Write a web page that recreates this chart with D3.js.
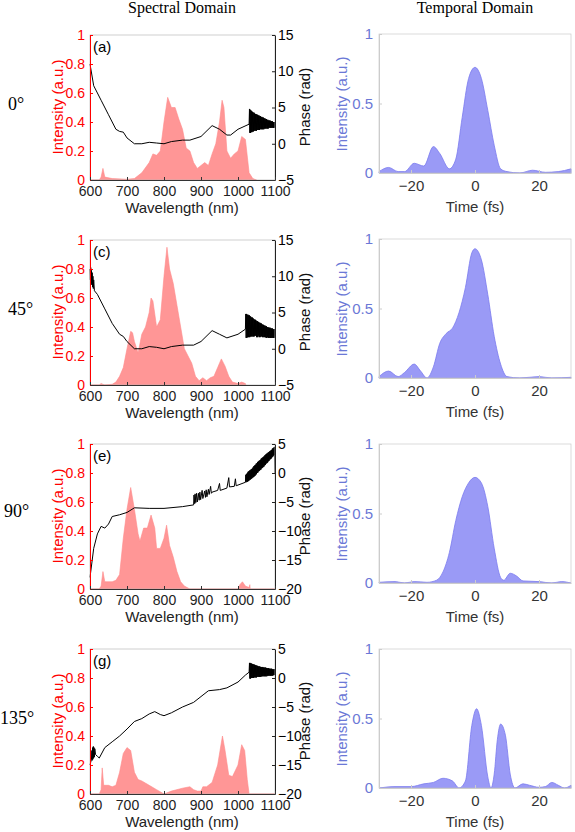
<!DOCTYPE html>
<html><head><meta charset="utf-8">
<script src="https://cdn.jsdelivr.net/npm/d3@7"></script>
<style>body{margin:0;background:#fff}text{font-family:"Liberation Sans",Arial,sans-serif}</style>
</head><body><svg id="c" width="575" height="832"></svg>
<script>
const rowLabels = ["0°","45°","90°","135°"];
const panelLetters = ["(a)","(c)","(e)","(g)"];
const phaseDomains = [[-5,15],[-5,15],[-20,5],[-20,5]];
const phaseTicks = [[-5,0,5,10,15],[-5,0,5,10,15],[-20,-15,-10,-5,0,5],[-20,-15,-10,-5,0,5]];
const intensityTicks = [0,0.2,0.4,0.6,0.8,1];
const wlTicks = [600,700,800,900,1000,1100];
const timeTicks = [-20,0,20];
const timeIntTicks = [0,0.5,1];

// spectral intensity, flat [wavelength, value, ...]
const specA = [600,0,625,0,630,0.02,635,0.08,640,0.02,660,0.01,700,0.005,720,0.01,740,0.05,760,0.12,770,0.18,780,0.17,790,0.2,800,0.4,810,0.57,820,0.5,830,0.5,840,0.42,850,0.35,860,0.22,870,0.2,880,0.12,890,0.08,900,0.1,910,0.12,920,0.1,930,0.18,940,0.25,950,0.4,957,0.55,962,0.5,970,0.2,980,0.15,990,0.18,1000,0.2,1010,0.3,1020,0.28,1030,0.05,1040,0.01,1050,0];
const specC = [600,0,625,0,630,0.01,640,0,660,0.005,670,0.02,680,0.06,690,0.12,700,0.25,710,0.37,715,0.36,720,0.3,730,0.22,740,0.35,750,0.4,760,0.5,765,0.6,770,0.58,780,0.4,790,0.45,800,0.75,808,0.95,815,0.8,825,0.7,835,0.55,845,0.4,855,0.25,865,0.2,875,0.15,885,0.06,895,0.03,905,0.05,915,0.03,925,0.05,935,0.06,945,0.12,955,0.18,965,0.13,975,0.06,985,0.02,1000,0.01,1010,0.02,1020,0.01,1021,0];
const specE = [600,0,625,0,630,0.02,635,0.12,640,0.05,660,0.05,670,0.06,680,0.1,690,0.35,700,0.55,710,0.7,720,0.55,730,0.38,735,0.33,745,0.42,755,0.42,765,0.51,775,0.42,780,0.28,790,0.28,800,0.35,807,0.44,815,0.3,825,0.22,835,0.12,845,0.05,855,0.02,870,0,1000,0,1005,0.03,1012,0.05,1020,0.02,1030,0.01,1032,0.03,1033,0,1100,0];
const specG = [600,0,625,0,630,0.03,633,0.18,637,0.06,650,0.06,660,0.05,670,0.06,680,0.15,690,0.28,700,0.32,710,0.3,720,0.15,730,0.1,740,0.09,760,0.06,780,0.03,800,0,820,0.02,850,0.04,870,0.05,880,0.03,890,0.02,900,0.02,905,0.05,915,0.05,930,0.08,945,0.2,958,0.4,965,0.3,975,0.13,985,0.12,1000,0.2,1010,0.34,1018,0.3,1025,0.1,1030,0,1100,0];

// spectral phase, flat [wavelength, value, ...]
const phaseA = [600,11,610,8,630,6,650,4,670,2,680,1.7,690,1.6,700,0.8,720,0,740,0,760,0.2,780,0.1,800,0,820,0.3,850,0.5,870,0.5,900,1,930,2.5,950,2,970,1.2,980,1.2,1000,2,1030,2.7,
 1031,4.8,1032,1.5,1033,4.7,1034,1.5,1035,4.6,1036,1.6,1037,4.5,1038,1.6,1039,4.4,1040,1.7,1041,4.3,1042,1.7,1043,4.3,1044,1.8,1045,4.2,1046,1.8,1047,4.1,1048,1.8,1049,4.1,1050,1.8,1051,4.0,1052,1.9,1053,4.0,1054,1.9,1055,3.9,1056,1.9,1057,3.9,1058,1.9,1059,3.8,1060,2.0,1061,3.8,1062,2.0,1063,3.7,1064,2.0,1065,3.7,1066,2.0,1067,3.6,1068,2.0,1069,3.6,1070,2.0,1071,3.5,1072,2.1,1073,3.5,1074,2.1,1075,3.4,1076,2.1,1077,3.4,1078,2.1,1079,3.3,1080,2.1,1081,3.3,1082,2.1,1083,3.2,1084,2.2,1085,3.2,1086,2.2,1087,3.2,1088,2.2,1089,3.1,1090,2.2,1091,3.1,1092,2.2,1093,3.1,1094,2.2,1095,3.0,1096,2.2,1097,3.0,1098,2.2,1099,3.0,1100,2.6];
const phaseC = [600,11,601,9.5,602,11.2,603,9,604,10.8,605,8.8,606,10.5,607,8.5,608,10,609,8.3,610,9.5,612,8,620,7.5,640,5.5,660,3.5,680,2,690,1.7,700,1,720,0,740,0,760,0.3,780,0.2,800,0,820,0.3,850,0.5,880,0.5,900,1,930,2.5,950,2,970,1.5,1000,2,1020,2.7,
 1021,4.8,1022,1.5,1023,4.8,1024,1.5,1025,4.7,1026,1.6,1027,4.7,1028,1.6,1029,4.6,1030,1.6,1031,4.6,1032,1.6,1033,4.5,1034,1.7,1035,4.4,1036,1.7,1037,4.3,1038,1.7,1039,4.3,1040,1.7,1041,4.2,1042,1.7,1043,4.1,1044,1.7,1045,4.0,1046,1.8,1047,4.0,1048,1.8,1049,3.9,1050,1.6,1051,3.8,1052,1.6,1053,3.8,1054,1.6,1055,3.7,1056,1.8,1057,3.6,1058,1.6,1059,3.6,1060,1.6,1061,3.5,1062,1.7,1063,3.5,1064,1.7,1065,3.4,1066,1.6,1067,3.3,1068,1.6,1069,3.3,1070,1.6,1071,3.2,1072,1.6,1073,3.2,1074,1.6,1075,3.1,1076,1.5,1077,3.1,1078,1.5,1079,3.0,1080,1.6,1081,3.0,1082,1.5,1083,2.9,1084,1.5,1085,2.9,1086,1.5,1087,2.9,1088,1.5,1089,2.8,1090,1.5,1091,2.8,1092,1.5,1093,2.8,1094,1.5,1095,2.7,1096,1.5,1097,2.7,1098,1.5,1099,2.7,1100,1.8];
const phaseE = [600,-18,610,-13,620,-10.5,630,-9.2,640,-9.5,650,-8.8,660,-7.5,680,-7.2,700,-6.8,720,-6,760,-6.1,800,-6.1,850,-5.8,880,-5.5,
 881,-3.8,883,-5.3,884,-3.6,886,-5.1,888,-3.5,890,-5,893,-3.5,895,-4.7,897,-3.3,899,-4.6,903,-3.0,905,-4.4,910,-3.1,912,-4.2,914,-2.9,916,-4.1,920,-2.8,922,-3.7,926,-2.3,928,-3.5,930,-3.3,945,-3.0,950,-1.8,952,-3.0,970,-2.6,975,-0.8,977,-2.4,990,-2.3,993,-1.0,995,-2.2,1020,-1.6,
 1021,-0.3,1022,-1.6,1023,-0.2,1024,-1.5,1025,0,1026,-1.5,1027,0.2,1028,-1.4,1029,0.3,1030,-1.3,1031,0.4,1032,-1.2,1033,0.5,1034,-1.1,1035,0.6,1036,-1.0,1037,0.7,1038,-0.9,1039,0.8,1040,-0.8,1041,1.0,1042,-0.7,1043,1.2,1044,-0.6,1045,1.3,1046,-0.5,1047,1.4,1048,-0.3,1049,1.6,1050,-0.2,1051,1.7,1052,0,1053,1.9,1054,0.1,1055,2.0,1056,0.3,1057,2.1,1058,0.4,1059,2.2,1060,0.5,1061,2.3,1062,0.6,1063,2.5,1064,0.8,1065,2.6,1066,0.9,1067,2.7,1068,1.0,1069,2.8,1070,1.1,1071,2.9,1072,1.3,1073,3.1,1074,1.4,1075,3.2,1076,1.6,1077,3.3,1078,1.7,1079,3.4,1080,1.8,1081,3.5,1082,2.0,1083,3.6,1084,2.1,1085,3.7,1086,2.3,1087,3.8,1088,2.4,1089,3.9,1090,2.5,1091,4.0,1092,2.7,1093,4.2,1094,2.8,1095,4.3,1096,3.0,1097,4.4,1098,3.1,1099,4.5,1100,0];
const phaseG = [600,-15,604,-14,605,-12.5,606,-14.2,607,-12,608,-14,609,-11.8,610,-13.8,611,-12,612,-13.6,613,-12.2,615,-13.2,620,-13.5,625,-13.8,640,-12,660,-11,680,-10,700,-8.8,720,-7.5,740,-7,760,-6.2,775,-5.8,790,-6.3,800,-6.5,820,-6,850,-5,880,-4.2,900,-3.2,920,-2.2,950,-2,970,-1.7,1000,-0.7,1020,0.5,1030,1,
 1031,2.6,1032,-0.1,1033,2.6,1034,-0.1,1035,2.5,1036,0,1037,2.5,1038,0,1039,2.4,1040,0,1041,2.4,1042,0,1043,2.3,1044,0.1,1045,2.3,1046,0.1,1047,2.2,1048,0.1,1049,2.2,1050,0.1,1051,2.1,1052,0.2,1053,2.1,1054,0.2,1055,2.0,1056,0.2,1057,2.0,1058,0.2,1059,2.0,1060,0.2,1061,1.9,1062,0.2,1063,1.9,1064,0.3,1065,1.9,1066,0.3,1067,1.9,1068,0.3,1069,1.8,1070,0.3,1071,1.8,1072,0.3,1073,1.8,1074,0.3,1075,1.8,1076,0.3,1077,1.7,1078,0.3,1079,1.7,1080,0.4,1081,1.7,1082,0.4,1083,1.7,1084,0.4,1085,1.6,1086,0.4,1087,1.6,1088,0.4,1089,1.6,1090,0.4,1091,1.6,1092,0.4,1093,1.5,1094,0.4,1095,1.5,1096,0.5,1097,1.5,1098,0.5,1099,1.5,1100,1.0];

// temporal intensity, flat [time, value, ...]
const tempA = [-30,0.01,-27,0.04,-24,0.01,-22,0.01,-19,0.07,-16,0.05,-13,0.19,-11,0.14,-8,0.03,-6,0.1,-4,0.4,-2,0.68,0,0.76,2,0.68,4,0.45,6,0.2,8,0.03,10,0.01,14,0,18,0.02,22,0.005,26,0.01,30,0.03];
const tempC = [-30,0.01,-27,0.05,-24,0.01,-22,0.04,-19,0.1,-17,0.05,-15,0,-13,0.08,-11,0.25,-9,0.32,-7,0.36,-5,0.47,-3,0.65,-1,0.9,0,0.93,2,0.85,4,0.6,6,0.3,8,0.1,10,0.01,14,0,20,0.01,24,0,30,0.005];
const tempE = [-30,0.005,-25,0.01,-22,0,-19,0.01,-15,0.005,-12,0.02,-10,0.08,-8,0.22,-6,0.45,-4,0.62,-2,0.72,0,0.76,2,0.72,4,0.55,6,0.25,8,0.04,9,0.02,11,0.07,13,0.05,15,0.015,20,0.01,24,0,27,0.01,30,0];
const tempG = [-30,0,-25,0.01,-20,0.01,-16,0.03,-13,0.04,-10,0.07,-7,0.05,-5,0,-3,0.05,-1,0.45,0.5,0.57,2,0.45,4,0.08,5,0,6,0.1,7,0.35,8,0.46,9.5,0.38,11,0.1,12.5,0,15,0.03,17,0.02,20,0.005,22,0.01,24,0.04,26,0.02,28,0,30,0.02];

const specs=[specA,specC,specE,specG], phases=[phaseA,phaseC,phaseE,phaseG], temps=[tempA,tempC,tempE,tempG];
const pairs = a => { const r=[]; for(let i=0;i<a.length;i+=2) r.push([a[i],a[i+1]]); return r; };

const svg=d3.select("#c");
const FS=14, SERIF="'Liberation Serif','DejaVu Serif',serif";
svg.append("text").attr("x",182).attr("y",13).attr("text-anchor","middle").style("font-family",SERIF).style("font-size","16px").text("Spectral Domain");
svg.append("text").attr("x",475).attr("y",13).attr("text-anchor","middle").style("font-family",SERIF).style("font-size","16px").text("Temporal Domain");

const sx=d3.scaleLinear().domain([600,1100]).range([90,275]);
const tx=d3.scaleLinear().domain([-30,30]).range([379,571]);
const rowTop=[35,240,444,649];
const tTop=[34,239,444,649];
const RED="#ff0000", BLUE="#6b78d6";

rowTop.forEach((top,i)=>{
  const bot=top+145;
  const sy=d3.scaleLinear().domain([0,1]).range([bot,top]);
  const py=d3.scaleLinear().domain(phaseDomains[i]).range([bot,top]);
  const g=svg.append("g");
  g.append("text").attr("x",[8,8,4,0][i]).attr("y",top+75+[0,0,-2,0][i]).style("font-family",SERIF).style("font-size","18px").text(rowLabels[i]);
  g.append("path").datum(pairs(specs[i])).attr("fill","#ff9696").attr("stroke","#ff8a8a").attr("stroke-width",0.6)
   .attr("d",d3.area().x(d=>sx(d[0])).y0(bot).y1(d=>sy(d[1])));
  g.append("path").datum(pairs(phases[i])).attr("fill","none").attr("stroke","#000").attr("stroke-width",1)
   .attr("d",d3.line().x(d=>sx(d[0])).y(d=>py(d[1])));
  g.append("rect").attr("x",90).attr("y",top).attr("width",185).attr("height",145).attr("fill","none").attr("stroke","#bbb").attr("stroke-width",0.7);
  const la=g.append("g").attr("transform",`translate(90,0)`).call(d3.axisLeft(sy).tickValues(intensityTicks).tickFormat(d3.format("~g")).tickSizeInner(-3).tickSizeOuter(0).tickPadding(5));
  la.selectAll("text").attr("fill",RED).style("font-size",FS+"px");
  la.selectAll("line,path").attr("stroke",RED);
  const ra=g.append("g").attr("transform",`translate(275,0)`).call(d3.axisRight(py).tickValues(phaseTicks[i]).tickSizeInner(-3).tickSizeOuter(0).tickPadding(3));
  ra.selectAll("text").attr("fill","#000").style("font-size",FS+"px");
  ra.selectAll("line,path").attr("stroke","#222");
  const ba=g.append("g").attr("transform",`translate(0,${bot})`).call(d3.axisBottom(sx).tickValues(wlTicks).tickFormat(d3.format("d")).tickSizeInner(-3).tickSizeOuter(0).tickPadding(6));
  ba.selectAll("text").attr("fill","#222").style("font-size",FS+"px");
  ba.selectAll("line,path").attr("stroke","#333");
  g.append("text").attr("x",182).attr("y",bot+33).attr("text-anchor","middle").attr("fill","#222").style("font-size","15px").text("Wavelength (nm)");
  g.append("text").attr("transform",`translate(63,${top+72}) rotate(-90)`).attr("text-anchor","middle").attr("fill",RED).style("font-size","15px").text("Intensity (a.u.)");
  g.append("text").attr("transform",`translate(310,${top+72}) rotate(-90)`).attr("text-anchor","middle").attr("fill","#111").style("font-size","15px").text("Phase (rad)");
  g.append("text").attr("x",93).attr("y",top+17).attr("fill","#000").style("font-size","15px").text(panelLetters[i]);

  // temporal
  const tt=tTop[i], tb=tt+139;
  const ty=d3.scaleLinear().domain([0,1]).range([tb,tt]);
  const h=svg.append("g");
  h.append("path").datum(pairs(temps[i])).attr("fill","#9a9af6").attr("stroke","#7b7bef").attr("stroke-width",0.8)
   .attr("d",d3.area().curve(d3.curveMonotoneX).x(d=>tx(d[0])).y0(tb).y1(d=>ty(d[1])));
  h.append("rect").attr("x",379).attr("y",tt).attr("width",192).attr("height",139).attr("fill","none").attr("stroke","#ccc").attr("stroke-width",0.7);
  const tl=h.append("g").attr("transform",`translate(379,0)`).call(d3.axisLeft(ty).tickValues(timeIntTicks).tickFormat(d3.format("~g")).tickSizeInner(-3).tickSizeOuter(0).tickPadding(6));
  tl.selectAll("text").attr("fill",BLUE).style("font-size","15px");
  tl.selectAll("line,path").attr("stroke","#ccc");
  const tbx=h.append("g").attr("transform",`translate(0,${tb})`).call(d3.axisBottom(tx).tickValues(timeTicks).tickSizeInner(-3).tickSizeOuter(0).tickPadding(7));
  tbx.selectAll("text").attr("fill","#333").style("font-size","15px");
  tbx.selectAll("line,path").attr("stroke","#ccc");
  h.append("text").attr("x",475).attr("y",tb+39).attr("text-anchor","middle").attr("fill","#333").style("font-size","15px").text("Time (fs)");
  h.append("text").attr("transform",`translate(347,${tt+70}) rotate(-90)`).attr("text-anchor","middle").attr("fill",BLUE).style("font-size","15px").text("Intensity (a.u.)");
});
</script></body></html>
